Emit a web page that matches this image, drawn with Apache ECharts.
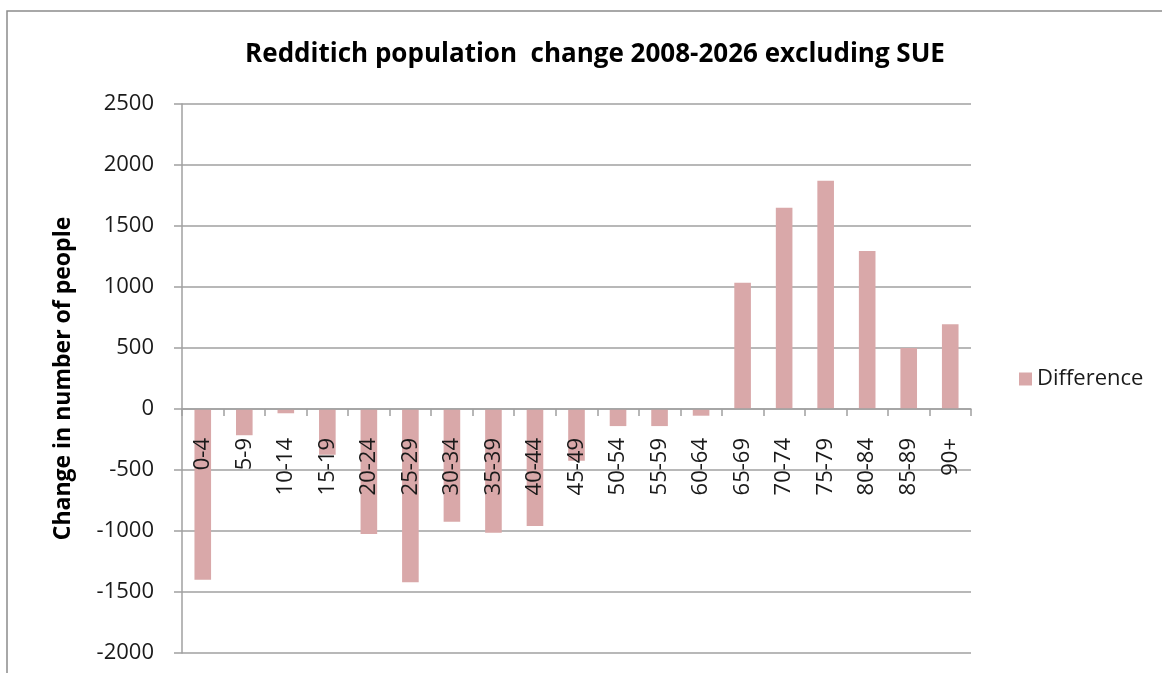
<!DOCTYPE html>
<html>
<head>
<meta charset="utf-8">
<script src="https://cdn.jsdelivr.net/npm/echarts@6/dist/echarts.min.js"></script>
<style>
  html, body { margin: 0; padding: 0; background: #ffffff; }
  #chart { width: 1162px; height: 673px; }
</style>
</head>
<body>
<div id="chart"></div>
<script>
// Age bands and the change in residents between 2008 and 2026
const ageBands = ['0-4', '5-9', '10-14', '15-19', '20-24', '25-29', '30-34', '35-39', '40-44',
  '45-49', '50-54', '55-59', '60-64', '65-69', '70-74', '75-79', '80-84', '85-89', '90+'];
const difference = [-1400, -215, -35, -375, -1025, -1420, -925, -1015, -960,
  -425, -140, -140, -55, 1035, 1650, 1870, 1295, 500, 695];
const yTicks = { min: -2000, max: 2500, step: 500 };

const FONT = '"Open Sans", "Noto Sans", sans-serif';
const GRAY = '#a0a0a0';
const chart = echarts.init(document.getElementById('chart'));

chart.setOption({
  animation: false,
  backgroundColor: '#ffffff',
  textStyle: { fontFamily: FONT },
  title: {
    text: 'Redditich population  change 2008-2026 excluding SUE',
    left: 590,
    top: 37,
    textAlign: 'center',
    textStyle: { fontFamily: FONT, fontSize: 26, fontWeight: 'bold', color: '#000000' }
  },
  graphic: [{
    type: 'rect',
    shape: { x: 7, y: 11, width: 1200, height: 700 },
    style: { fill: 'none', stroke: '#8c8c8c', lineWidth: 1.5 },
    silent: true,
    z: -1
  }],
  legend: {
    data: ['Difference'],
    orient: 'vertical',
    left: 1014,
    top: 363,
    itemWidth: 13,
    itemHeight: 13,
    itemGap: 8,
    icon: 'rect',
    textStyle: { fontFamily: FONT, fontSize: 22, color: '#1a1a1a' }
  },
  grid: { left: 182, right: 191, top: 104, bottom: 20, containLabel: false, outerBoundsMode: 'none' },
  xAxis: {
    type: 'category',
    data: ageBands,
    position: 'bottom',
    z: 3,
    axisLine: { onZero: false, lineStyle: { color: GRAY, width: 1.5 } },
    axisTick: { show: true, alignWithLabel: false, length: 7, lineStyle: { color: GRAY, width: 1.5 } },
    axisLabel: {
      show: true,
      rotate: 90,
      margin: 29,
      interval: 0,
      hideOverlap: false,
      fontFamily: FONT,
      fontSize: 22,
      color: '#1a1a1a'
    },
    splitLine: { show: false }
  },
  yAxis: {
    type: 'value',
    min: yTicks.min,
    max: yTicks.max,
    interval: yTicks.step,
    name: 'Change in number of people',
    nameLocation: 'middle',
    nameGap: 107,
    nameTextStyle: { fontFamily: FONT, fontSize: 23, fontWeight: 'bold', color: '#000000' },
    axisLine: { show: true, lineStyle: { color: GRAY, width: 1.5 } },
    axisTick: { show: true, length: 8, lineStyle: { color: GRAY, width: 1.5 } },
    axisLabel: {
      margin: 28,
      fontFamily: FONT,
      fontSize: 22,
      color: '#1a1a1a',
      formatter: function (v) { return String(v); }
    },
    splitLine: { show: true, lineStyle: { color: GRAY, width: 1.5 } }
  },
  series: [{
    name: 'Difference',
    type: 'bar',
    data: difference,
    barWidth: '40%',
    itemStyle: { color: '#d9a8a9' },
    z: 2
  }]
});

// Lift the category axis (line, ticks and labels) up to the zero value line
const zeroY = chart.convertToPixel({ yAxisIndex: 0 }, 0);
const floorY = chart.convertToPixel({ yAxisIndex: 0 }, yTicks.min);
chart.setOption({ xAxis: { offset: -(floorY - zeroY) } });
</script>
</body>
</html>
